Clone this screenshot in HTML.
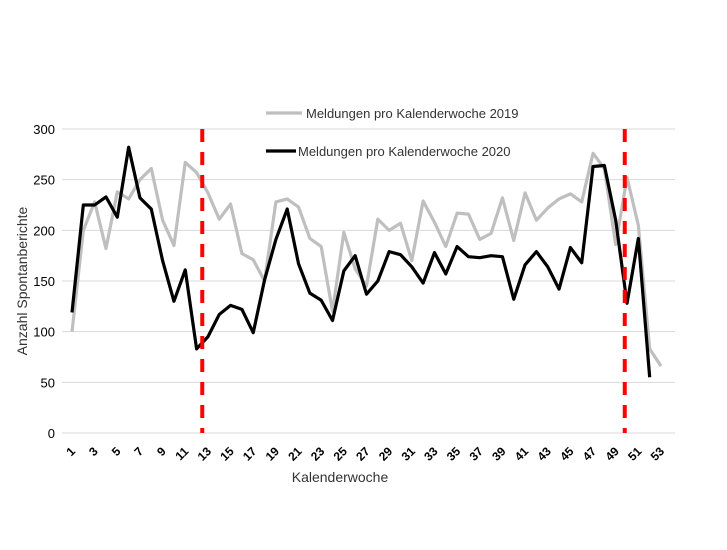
<!DOCTYPE html>
<html><head><meta charset="utf-8"><style>
body{margin:0;background:#fff;font-family:"Liberation Sans",sans-serif}
</style></head><body>
<svg id="chart" width="727" height="545" xmlns="http://www.w3.org/2000/svg" font-family="Liberation Sans, sans-serif"></svg>
<script>
const weeks=[];for(let i=1;i<=53;i++)weeks.push(i);
const series2019=[100,200,228,182,238,231,250,261,210,185,267,257,237,211,226,177,171,150,228,231,223,192,184,120,198,162,145,211,200,207,170,229,208,184,217,216,191,197,232,190,237,210,222,231,236,228,276,261,186,252,205,83,66];
const series2020=[119,225,225,233,213,282,232,221,170,130,161,83,95,117,126,122,99,151,191,221,167,138,131,111,160,175,137,150,179,176,164,148,178,157,184,174,173,175,174,132,166,179,164,142,183,168,263,264,210,128,192,55];
const yTicks=[0,50,100,150,200,250,300];
const markerWeeks=[12.5,49.8];
const NS="http://www.w3.org/2000/svg";
const svg=document.getElementById('chart');
const X0=72,X1=661,Y0=433,Y1=129;
const x=w=>X0+(w-1)*(X1-X0)/52;
const y=v=>Y0-v*(Y0-Y1)/300;
function mk(t,a,txt){const e=document.createElementNS(NS,t);for(const k in a)e.setAttribute(k,a[k]);if(txt!==undefined)e.textContent=txt;svg.appendChild(e);return e;}
yTicks.forEach(v=>{
 const g=mk('line',{x1:62,x2:675,y1:y(v),y2:y(v),stroke:'#d9d9d9','stroke-width':1});
 
 
 const t=mk('text',{x:55,y:y(v)+5,'text-anchor':'end','font-size':13,fill:'#000'},v);
 
 
});
weeks.forEach(w=>{
 if(w%2===0)return;
 const t=mk('text',{transform:`translate(${x(w)+4},${452}) rotate(-45)`,'text-anchor':'end','font-size':12,'font-weight':'bold',fill:'#000'},w);
 
 
});
function line(data,color,name){
 const p=mk('polyline',{points:data.map((v,i)=>x(weeks[i])+','+y(v)).join(' '),fill:'none',stroke:color,'stroke-width':3.2,'stroke-linejoin':'round'});
 
 
}
line(series2019,'#bfbfbf','line-2019');
line(series2020,'#000','line-2020');
markerWeeks.forEach((w,i)=>{
 const l=mk('line',{x1:x(w),x2:x(w),y1:129,y2:433,stroke:'#ff0000','stroke-width':4,'stroke-dasharray':'13,10'});
 
 
});
const l1=mk('line',{x1:266,x2:302,y1:113,y2:113,stroke:'#bfbfbf','stroke-width':3.2});


const t1=mk('text',{x:306,y:118,'font-size':13,fill:'#333'},'Meldungen pro Kalenderwoche 2019');


const l2=mk('line',{x1:266,x2:296,y1:151,y2:151,stroke:'#000','stroke-width':3.2});


const t2=mk('text',{x:298,y:156,'font-size':13,fill:'#333'},'Meldungen pro Kalenderwoche 2020');


const xt=mk('text',{x:340,y:482,'text-anchor':'middle','font-size':14,fill:'#333'},'Kalenderwoche');


const yt=mk('text',{transform:'translate(27,281) rotate(-90)','text-anchor':'middle','font-size':14,fill:'#333'},'Anzahl Spontanberichte');


</script>
</body></html>
